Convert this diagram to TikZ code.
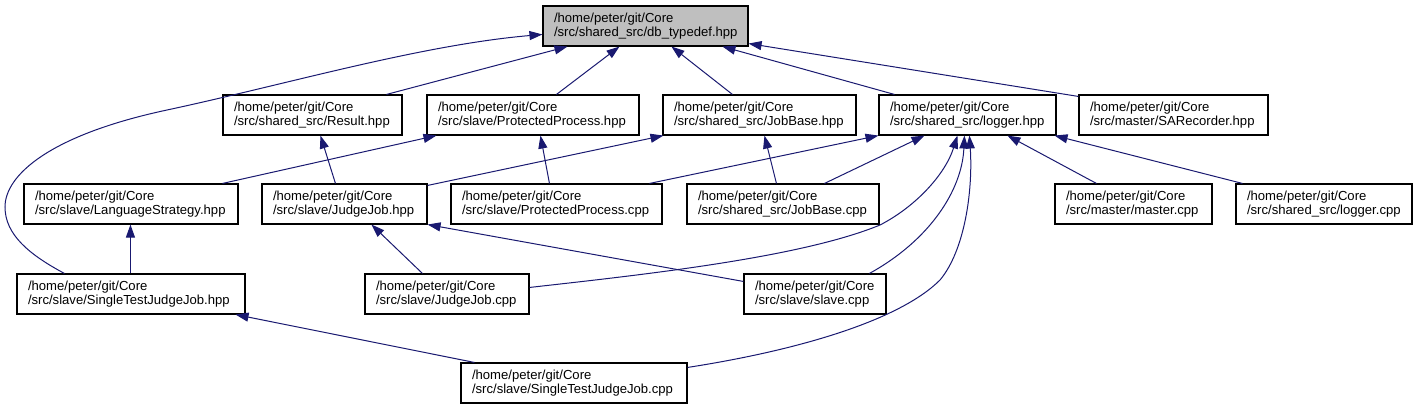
\documentclass[tikz,border=0pt]{standalone}
\usepackage{fontspec}
\setmainfont{Liberation Sans}
\usetikzlibrary{arrows.meta,calc}
\definecolor{midblue}{HTML}{191970}
\definecolor{greyfill}{HTML}{BFBFBF}
\begin{document}
\begin{tikzpicture}[x=1pt,y=-1pt,
  box/.style={draw=black, line width=1.1pt, fill=white, minimum height=40pt,
    inner xsep=11pt, inner ysep=0pt, align=left,
    font=\fontsize{13.1}{14.3}\selectfont},
  edge/.style={draw=midblue, line width=1pt, -{Triangle[length=13pt,width=9pt]}}]
\useasboundingbox (0,0) rectangle (1418,409);
% row 1
\node[box, fill=greyfill, text width=183pt] (A) at (645.5,26) {/home/peter/git/Core\\/src/shared\_src/db\_typedef.hpp};
% row 2
\node[box, text width=157pt] (B) at (312.5,115) {/home/peter/git/Core\\/src/shared\_src/Result.hpp};
\node[box, text width=190pt] (C) at (533,115) {/home/peter/git/Core\\/src/slave/ProtectedProcess.hpp};
\node[box, text width=171pt] (D) at (759.5,115) {/home/peter/git/Core\\/src/shared\_src/JobBase.hpp};
\node[box, text width=155pt] (E) at (967.5,115) {/home/peter/git/Core\\/src/shared\_src/logger.hpp};
\node[box, text width=167pt] (F) at (1173.5,115) {/home/peter/git/Core\\/src/master/SARecorder.hpp};
% row 3
\node[box, text width=192pt] (G) at (131,204) {/home/peter/git/Core\\/src/slave/LanguageStrategy.hpp};
\node[box, text width=143pt] (H) at (344.5,204) {/home/peter/git/Core\\/src/slave/JudgeJob.hpp};
\node[box, text width=189pt] (I) at (556.5,204) {/home/peter/git/Core\\/src/slave/ProtectedProcess.cpp};
\node[box, text width=170pt] (J) at (783,204) {/home/peter/git/Core\\/src/shared\_src/JobBase.cpp};
\node[box, text width=135pt] (K) at (1133.5,204) {/home/peter/git/Core\\/src/master/master.cpp};
\node[box, text width=154pt] (L) at (1324,204) {/home/peter/git/Core\\/src/shared\_src/logger.cpp};
% row 4
\node[box, text width=206pt] (M) at (131,294) {/home/peter/git/Core\\/src/slave/SingleTestJudgeJob.hpp};
\node[box, text width=142pt] (N) at (447,294) {/home/peter/git/Core\\/src/slave/JudgeJob.cpp};
\node[box, text width=120pt] (O) at (815,294) {/home/peter/git/Core\\/src/slave/slave.cpp};
% row 5
\node[box, text width=204pt] (P) at (574,383) {/home/peter/git/Core\\/src/slave/SingleTestJudgeJob.cpp};
% edges to db_typedef
\draw[edge] ($(B.north west)+(164,0)$) -- ($(A.south west)+(25,0)$);
\draw[edge] ($(C.north west)+(130,0)$) -- ($(A.south west)+(77,0)$);
\draw[edge] ($(D.north west)+(70,0)$) -- ($(A.south west)+(129,0)$);
\draw[edge] ($(E.north west)+(16,0)$) -- ($(A.south west)+(180,0)$);
\draw[edge] ($(F.north west)+(0,2)$) -- ($(A.south east)+(0,-3)$);
\draw[edge] ($(M.north west)+(48,0)$) .. controls (30,255) and (5,235) .. (5,207)
  .. controls (5,175) and (50,135) .. (167,110)
  .. controls (284,85) and (420,45) .. ($(A.north west)+(0,29)$);
% row 3 -> row 2
\draw[edge] ($(G.north west)+(199,0)$) -- ($(C.south west)+(10,0)$);
\draw[edge] ($(H.north west)+(74,0)$) -- ($(B.south west)+(98,0)$);
\draw[edge] ($(H.north east)+(0,2)$) -- ($(D.south west)+(1,0)$);
\draw[edge] ($(I.north west)+(99,0)$) -- ($(C.south west)+(114,0)$);
\draw[edge] ($(I.north west)+(199,0)$) -- (E.south west);
\draw[edge] ($(J.north west)+(90,0)$) -- ($(D.south west)+(102,0)$);
\draw[edge] ($(J.north west)+(138,0)$) -- ($(E.south west)+(46,0)$);
\draw[edge] ($(K.north west)+(42,0)$) -- ($(E.south west)+(129,0)$);
\draw[edge] ($(L.north west)+(7,0)$) -- ($(E.south east)+(-2,0)$);
% curves to logger.hpp
\draw[edge] ($(N.north east)+(0,14)$) .. controls (640,275) and (800,258) .. (880,225)
  .. controls (915,207) and (945,175) .. ($(E.south west)+(79,0)$);
\draw[edge] ($(O.north west)+(126,0)$) .. controls (930,240) and (962,190) .. ($(E.south west)+(86,0)$);
\draw[edge] ($(P.north east)+(0,5)$) .. controls (800,350) and (900,320) .. (940,280)
  .. controls (965,250) and (973,190) .. ($(E.south west)+(91,0)$);
% lower rows
\draw[edge] ($(N.north west)+(58,0)$) -- ($(H.south west)+(110,0)$);
\draw[edge] ($(O.north west)+(0,8)$) -- (H.south east);
\draw[edge] ($(P.north west)+(14,0)$) -- ($(M.south east)+(-10,0)$);
\draw[edge] ($(M.north west)+(114,0)$) -- ($(G.south west)+(107,0)$);
\end{tikzpicture}
\end{document}
